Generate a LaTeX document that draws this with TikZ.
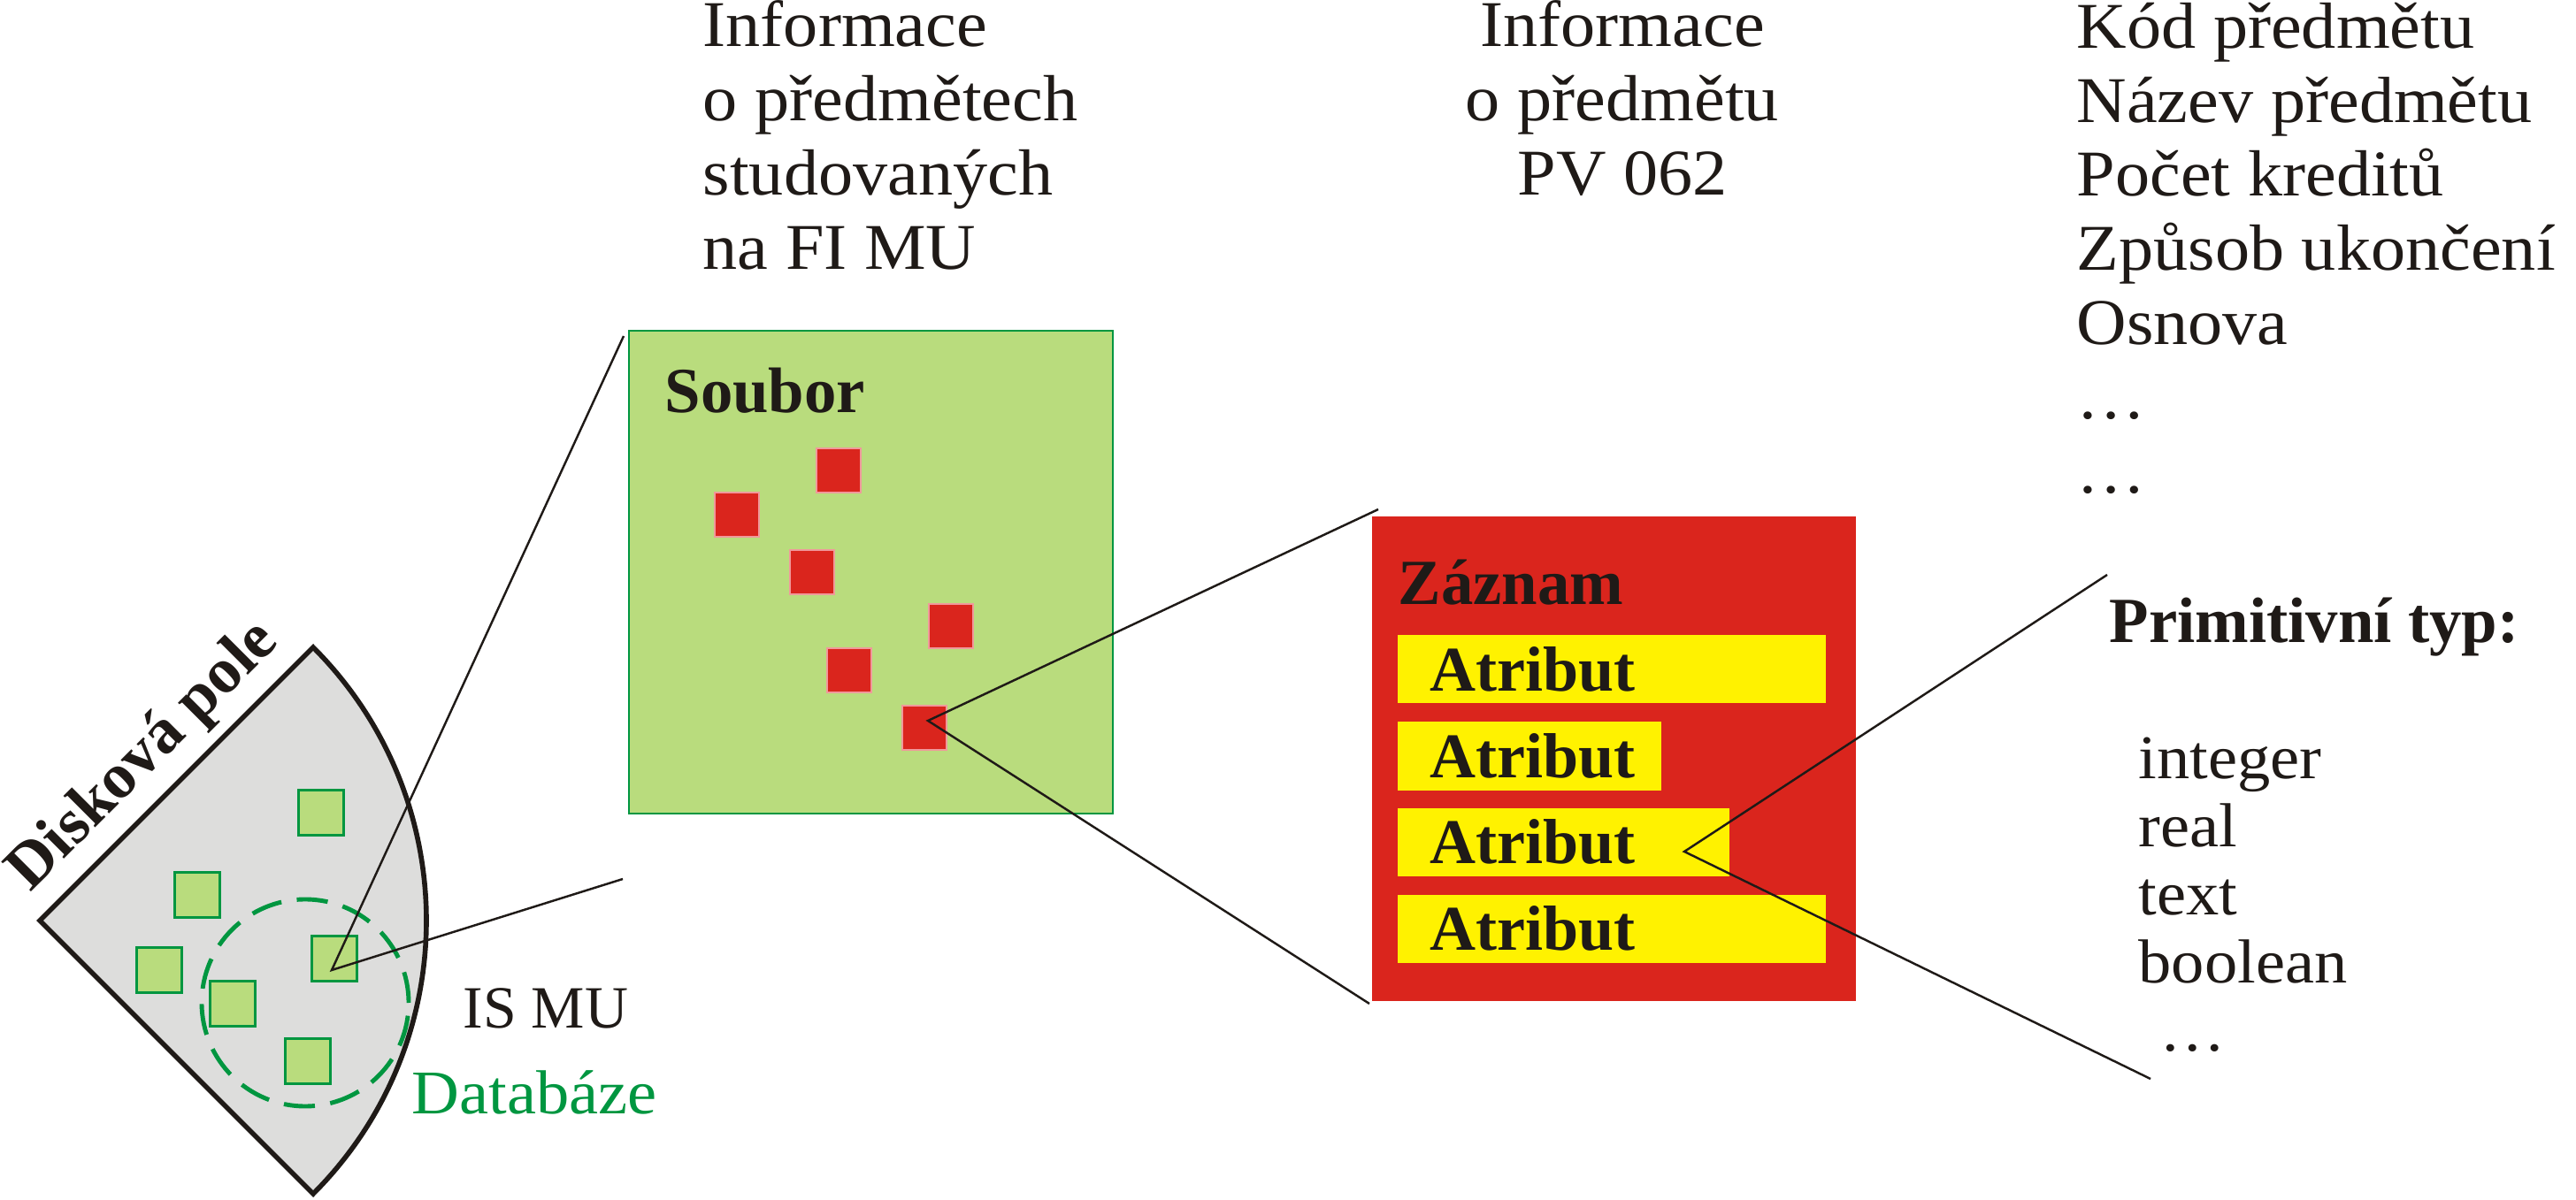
\documentclass[tikz,border=0pt]{standalone}
\usepackage{fontspec}
\setmainfont{Liberation Serif}
\newfontfamily\sirokyfont{Liberation Serif}[FakeStretch=1.06]
\usepackage{tikz}
\definecolor{diskgray}{HTML}{DDDDDC}
\definecolor{svetlezelena}{HTML}{B9DC7D}
\definecolor{zelena}{HTML}{009640}
\definecolor{cervena}{HTML}{DA251D}
\definecolor{ruzova}{HTML}{F0999B}
\definecolor{zluta}{HTML}{FFF200}
\definecolor{cerna}{HTML}{1F1A17}

\tikzset{
  popis/.style={font=\sirokyfont\fontsize{21}{23.9}\selectfont, text=cerna, inner sep=0pt, align=left},
  nadpis/.style={font=\bfseries\fontsize{20.7}{24}\selectfont, text=cerna, inner sep=0pt},
  blok/.style={draw=zelena, line width=0.7pt, fill=svetlezelena, minimum size=0.51cm, inner sep=0pt},
  zaznam/.style={draw=ruzova, line width=0.6pt, fill=cervena, minimum size=0.50cm, inner sep=0pt},
  atribut/.style={fill=zluta, minimum height=0.77cm, inner xsep=0.37cm, inner ysep=0pt, anchor=west, align=left, font=\bfseries\fontsize{20.5}{24}\selectfont, text=cerna},
  spoj/.style={line width=0.7pt, draw=cerna}
}

\begin{document}
\begin{tikzpicture}
    \useasboundingbox (0,0) rectangle (29.12,13.56);
    % disk array
    \draw[line width=1.6pt, draw=cerna, fill=diskgray] (0.45,3.15) -- ++(45:4.37) arc (45:-45:4.37) -- cycle;
    \node[nadpis, rotate=45] (pole) at (1.63,5.00) {Disková pole};
    \node[blok] (b1) at (3.63,4.37) {};
    \node[blok] (b2) at (2.23,3.44) {};
    \node[blok] (b3) at (1.80,2.59) {};
    \node[blok] (b4) at (3.78,2.72) {};
    \node[blok] (b5) at (2.63,2.21) {};
    \node[blok] (b6) at (3.48,1.56) {};
    \node[circle, draw=zelena, line width=1.4pt, dash pattern=on 10pt off 5pt, minimum size=2.34cm] (db) at (3.45,2.22) {};
    \node[popis, anchor=base west, font=\fontsize{19.3}{22}\selectfont] (ismu) at (5.23,1.94) {IS MU};
    \node[popis, anchor=base west, text=zelena, font=\sirokyfont\fontsize{20}{22}\selectfont] (databaze) at (4.65,0.97) {Databáze};
    % file
    \node[draw=zelena, line width=0.8pt, fill=svetlezelena, minimum width=5.47cm, minimum height=5.46cm] (soubor) at (9.845,7.09) {};
    \node[nadpis, anchor=base west] (souborlabel) at (7.51,8.89) {Soubor};
    \node[zaznam] (z1) at (9.48,8.24) {};
    \node[zaznam] (z2) at (8.33,7.74) {};
    \node[zaznam] (z3) at (9.18,7.09) {};
    \node[zaznam] (z4) at (10.75,6.48) {};
    \node[zaznam] (z5) at (9.60,5.98) {};
    \node[zaznam] (z6) at (10.45,5.33) {};
    % record
    \node[fill=cervena, minimum width=5.47cm, minimum height=5.48cm] (zaznam) at (18.245,4.98) {};
    \node[nadpis, anchor=base west] (zaznamlabel) at (15.80,6.72) {Záznam};
    \node[atribut, text width=4.10cm] (a1) at (15.79,5.99) {Atribut};
    \node[atribut, text width=2.24cm] (a2) at (15.79,5.01) {Atribut};
    \node[atribut, text width=3.01cm] (a3) at (15.79,4.04) {Atribut};
    \node[atribut, text width=4.10cm] (a4) at (15.79,3.06) {Atribut};
    % texts (base = last line)
    \node[popis, anchor=base west] (info1) at (7.94,10.51) {Informace\\o předmětech\\studovaných\\na FI MU};
    \node[popis, align=center, anchor=base] (info2) at (18.34,11.35) {Informace\\o předmětu\\PV 062};
    \node[popis, anchor=base west] (polozky) at (23.47,7.98) {Kód předmětu\\Název předmětu\\Počet kreditů\\Způsob ukončení\\Osnova\\\dots\\\dots};
    \node[nadpis, anchor=base west] (typ) at (23.84,6.29) {Primitivní typ:};
    \node[popis, anchor=base west, font=\sirokyfont\fontsize{20}{21.9}\selectfont] (typy) at (24.17,1.68) {integer\\real\\text\\boolean\\\hspace*{2.4mm}\dots};
    % points
    \node (0) at (3.75,2.59) {};
    \node (1) at (7.05,9.76) {};
    \node (2) at (7.04,3.62) {};
    \node (3) at (10.49,5.41) {};
    \node (4) at (15.58,7.80) {};
    \node (5) at (15.48,2.21) {};
    \node (6) at (19.04,3.93) {};
    \node (7) at (23.82,7.06) {};
    \node (8) at (24.31,1.36) {};
    % edges
    \draw[spoj] (1.center) to (0.center) to (2.center);
    \draw[spoj] (4.center) to (3.center) to (5.center);
    \draw[spoj] (7.center) to (6.center) to (8.center);
\end{tikzpicture}
\end{document}
